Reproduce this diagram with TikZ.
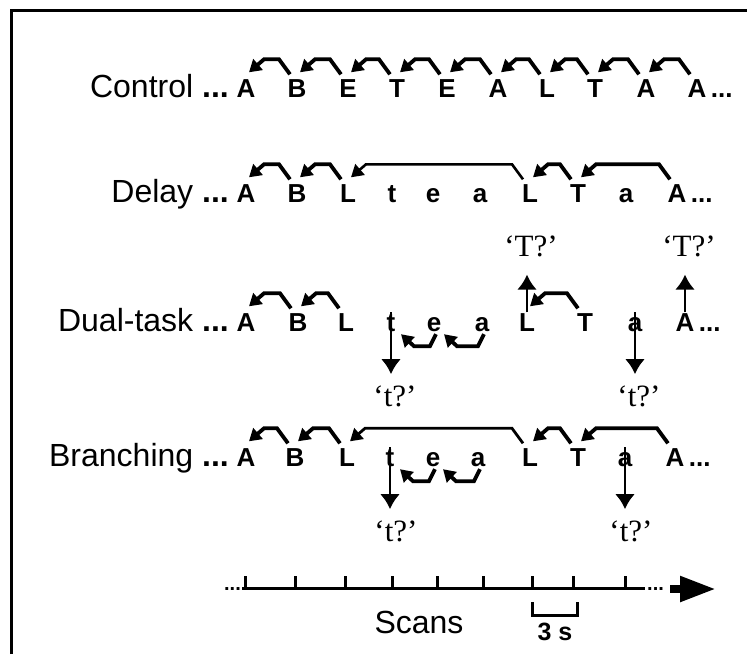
\documentclass[tikz,border=0pt]{standalone}
\usepackage{fontspec}
\setmainfont{Liberation Sans}
\newfontfamily\quotefont{Liberation Serif}
\usetikzlibrary{arrows.meta,calc,positioning}
% arched arrow from a later item back to an earlier one, above or below the row
\def\overhop[#1](#2)(#3){\draw[hop,#1] ($(#2.north)+(-7,-4)$) -- ++(-11,-15) -- ($(#3.north)+(18,-19)$) -- ($(#3.north)+(3,-6)$);}
\def\underhop(#1)(#2){\draw[hop] ($(#1.south)+(2,3)$) -- ++(-6,12) -- ($(#2.south)+(23,15)$) -- ($(#2.south)+(10,3)$);}

\tikzset{
  seq/.style={font=\fontsize{26}{26}\selectfont\bfseries, inner sep=0pt, text height=18.5pt, text depth=0pt, anchor=base},
  rowlabel/.style={font=\fontsize{32}{32}\selectfont, inner sep=0pt, anchor=base east},
  query/.style={font=\fontsize{31}{31}\selectfont\quotefont, inner sep=0pt, anchor=base},
  hop/.style={line width=3.8pt, line join=miter, -{Triangle[length=12pt,width=14pt]}},
  drop/.style={line width=2.8pt, -{Latex[length=15pt,width=20pt]}},
  axisline/.style={line width=3pt},
}

\begin{document}
\begin{tikzpicture}[x=1pt,y=-1pt]
		\useasboundingbox (0,0) rectangle (747,654);
		\draw[line width=3pt] (11,654) -- (11,10) -- (747,10);
		
		%%%%% control %%%%%
		\node[rowlabel] (ctl) at (229,97) {Control \textbf{...}};
		\foreach \l/\x [count=\i] in {A/246,B/297,E/348,T/397,E/447,A/498,L/547,T/595,A/646,A/697}
			\node[seq] (c\i) at (\x,97) {\l};
		\node[seq, right=4pt of c10] (cend) {...};
		\foreach \i/\j in {2/1,3/2,4/3,5/4,6/5,7/6,8/7,9/8,10/9}
			\overhop[](c\i)(c\j);
		
		%%%%% delay %%%%%
		\node[rowlabel] (dly) at (229,202) {Delay \textbf{...}};
		\foreach \l/\x [count=\i] in {A/246,B/297,L/348,t/392,e/433,a/480,L/530,T/578,a/626,A/677}
			\node[seq] (d\i) at (\x,202) {\l};
		\node[seq, right=4pt of d10] (dend) {...};
		\overhop[](d2)(d1);
		\overhop[](d3)(d2);
		\overhop[line width=2.6pt](d7)(d3);
		\overhop[](d8)(d7);
		\overhop[](d10)(d8);
		
		%%%%% dual-task %%%%%
		\node[rowlabel] (dual) at (229,331) {Dual-task \textbf{...}};
		\foreach \l/\x [count=\i] in {A/246,B/298,L/346,t/391,e/434,a/482,L/527,T/585,a/635,A/685}
			\node[seq] (u\i) at (\x,331) {\l};
		\node[seq, right=4pt of u10] (uend) {...};
		\overhop[](u2)(u1);
		\overhop[](u3)(u2);
		\overhop[](u8)(u7);
		\underhop(u5)(u4);
		\underhop(u6)(u5);
		
		\node[query] (uq1) at (531,256) {‘T?’};
		\node[query] (uq2) at (689,256) {‘T?’};
		\node[query] (uq3) at (395,406) {‘t?’};
		\node[query] (uq4) at (639,406) {‘t?’};
		\draw[drop, shorten >=18pt] (u7.north) -- (u7.north |- uq1.south);
		\draw[drop, shorten >=18pt] (u10.north) -- (u10.north |- uq2.south);
		\draw[drop, shorten >=11pt] (u4.north) -- (u4.north |- uq3.north);
		\draw[drop, shorten >=11pt] (u9.north) -- (u9.north |- uq4.north);
		
		%%%%% branching %%%%%
		\node[rowlabel] (brn) at (229,466) {Branching \textbf{...}};
		\foreach \l/\x [count=\i] in {A/246,B/295,L/347,t/390,e/433,a/478,L/530,T/578,a/625,A/675}
			\node[seq] (b\i) at (\x,466) {\l};
		\node[seq, right=4pt of b10] (bend) {...};
		\overhop[](b2)(b1);
		\overhop[](b3)(b2);
		\overhop[line width=2.8pt](b7)(b3);
		\overhop[](b8)(b7);
		\overhop[](b10)(b8);
		\underhop(b5)(b4);
		\underhop(b6)(b5);
		
		\node[query] (bq1) at (396,541) {‘t?’};
		\node[query] (bq2) at (631,541) {‘t?’};
		\draw[drop, shorten >=11pt] (b4.north) -- (b4.north |- bq1.north);
		\draw[drop, shorten >=11pt] (b9.north) -- (b9.north |- bq2.north);
		
		%%%%% time axis %%%%%
		\draw[axisline] (242,588) -- (645,588);
		\foreach \x in {245,295,345,392,437,483,532,573,625}
			\draw[axisline] (\x,588) -- ++(0,-12);
		\node[font=\fontsize{20}{20}\selectfont\bfseries, inner sep=0pt, anchor=base east] (tstart) at (241,590) {...};
		\node[font=\fontsize{20}{20}\selectfont\bfseries, inner sep=0pt, anchor=base west] (tend) at (647,590) {...};
		\draw[line width=8pt, -{Triangle[length=36pt,width=24pt]}] (670,589) -- (716,589);
		
		\node[font=\fontsize{32}{32}\selectfont, inner sep=0pt, anchor=base] (scans) at (419,633) {Scans};
		\draw[line width=3pt] (532,602) -- (532,615) -- (577,615) -- (577,602);
		\node[font=\fontsize{25}{25}\selectfont\bfseries, inner sep=0pt, anchor=base] (span) at (555,640) {3 s};
		
\end{tikzpicture}
\end{document}
